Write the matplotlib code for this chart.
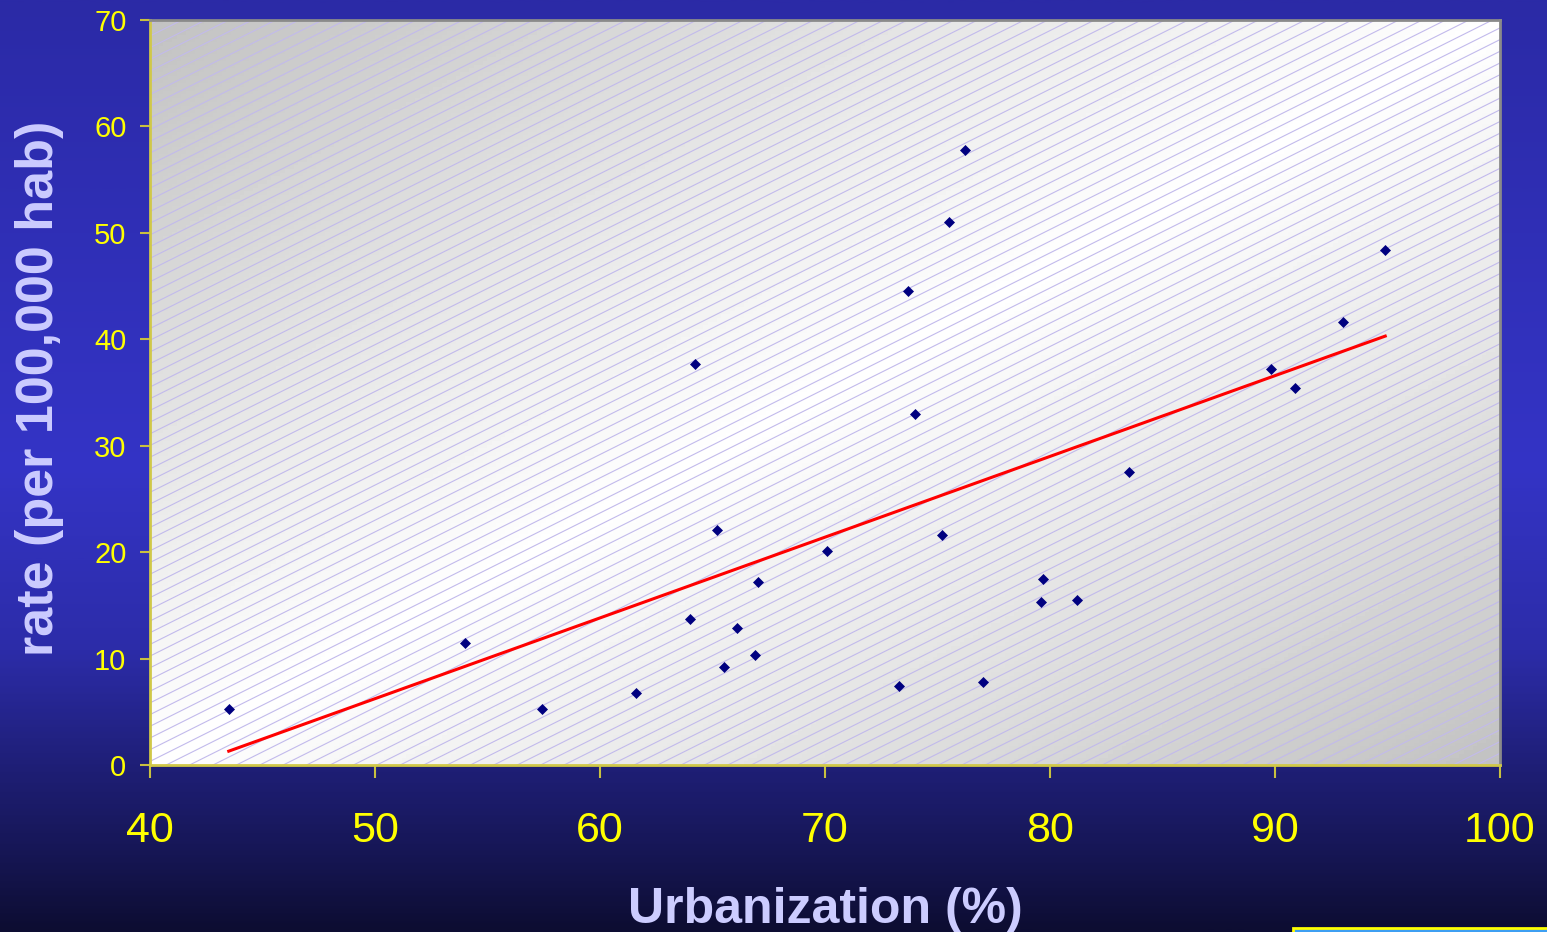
import numpy as np
import matplotlib.pyplot as plt
from matplotlib.colors import LinearSegmentedColormap
from matplotlib.patches import Rectangle

# data
urban = [43.5, 54.0, 57.4, 61.6, 64.0, 64.2, 65.2, 65.5, 66.1, 66.9, 67.0, 70.1,
         73.3, 73.7, 74.0, 75.2, 75.5, 76.2, 77.0, 79.6, 79.7, 81.2, 83.5, 89.8,
         90.9, 93.0, 94.9]
rate = [5.3, 11.5, 5.3, 6.8, 13.7, 37.7, 22.1, 9.2, 12.9, 10.3, 17.2, 20.1,
        7.4, 44.5, 33.0, 21.6, 51.0, 57.8, 7.8, 15.3, 17.5, 15.5, 27.5, 37.2,
        35.4, 41.6, 48.4]
trend_x = [43.5, 94.9]
trend_y = [1.3, 40.3]

xticks = [40, 50, 60, 70, 80, 90, 100]
yticks = [0, 10, 20, 30, 40, 50, 60, 70]

W, H = 1547, 932
fig = plt.figure(figsize=(W / 100, H / 100), dpi=100)
plt.rcParams['font.family'] = ['Liberation Sans', 'DejaVu Sans']

# slide background, vertical gradient
bgax = fig.add_axes([0, 0, 1, 1])
bgax.set_axis_off()
stops = [(0.0, (43, 42, 166)), (0.5, (52, 52, 198)), (0.7, (44, 44, 168)),
         (0.82, (31, 31, 120)), (0.92, (22, 22, 84)), (1.0, (13, 13, 50))]
cm = LinearSegmentedColormap.from_list('bg', [(p, np.array(c) / 255) for p, c in stops])
grad = np.linspace(0, 1, 400).reshape(-1, 1)
bgax.imshow(grad, cmap=cm, aspect='auto', extent=[0, 1, 0, 1], origin='upper')
bgax.set_xlim(0, 1)
bgax.set_ylim(0, 1)

# small box in the bottom right corner
fig.patches.append(Rectangle((1293 / W, -0.01), 0.2, 0.0145, transform=fig.transFigure,
                             facecolor='#3d9ff2', edgecolor='#ffff00', lw=2))

# plot area: diagonal gray-white-gray gradient with hatch lines
pos = [150 / W, 1 - 765 / H, 1350 / W, 745 / H]
pa = fig.add_axes(pos)
pa.set_axis_off()
pw, ph = 1350, 745
xx, yy = np.meshgrid(np.linspace(0, 1, 300), np.linspace(0, 1, 200))
t = (xx + yy) / 2  # 0 top-left, 1 bottom-right
val = 0.76 + 0.24 * (1 - np.abs(2 * t - 1))
pa.imshow(val, cmap='gray', vmin=0, vmax=1, aspect='auto', extent=[0, pw, 0, ph],
          origin='upper')
for c in np.arange(-pw * 0.5, ph + 12, 11.7):
    pa.plot([0, pw], [c, c + 0.5 * pw], color='#c2baec', lw=0.8, clip_on=True)
pa.set_xlim(0, pw)
pa.set_ylim(0, ph)

ax = fig.add_axes(pos)
ax.patch.set_alpha(0)
ax.plot(trend_x, trend_y, color='#ff0000', lw=2.2, zorder=3)
ax.plot(urban, rate, linestyle='none', marker='D', ms=5, color='#000080',
        mec='#000080', mew=0.5, zorder=4)
ax.set_xlim(40, 100)
ax.set_ylim(0, 70)
ax.set_xticks(xticks)
ax.set_yticks(yticks)
ax.tick_params(axis='x', colors='#ffff00', labelsize=31, length=9, width=1.5,
               pad=24, color='#c8c040')
ax.tick_params(axis='y', colors='#ffff00', labelsize=21, length=7, width=1.5,
               pad=10, color='#c8c040')
for s in ['left', 'bottom']:
    ax.spines[s].set_color('#d0c848')
    ax.spines[s].set_linewidth(2)
for s in ['top', 'right']:
    ax.spines[s].set_color('#8a8a8a')
    ax.spines[s].set_linewidth(2)

fig.text(825 / W, 1 - 923 / H, 'Urbanization (%)', color='#ccccff', fontsize=36,
         fontweight='bold', ha='center', va='baseline')
fig.text(40 / W, 1 - 388 / H, 'rate (per 100,000 hab)', color='#ccccff', fontsize=37.5,
         fontweight='bold', ha='center', va='center', rotation=90)

fig.savefig('out.png', dpi=100)
